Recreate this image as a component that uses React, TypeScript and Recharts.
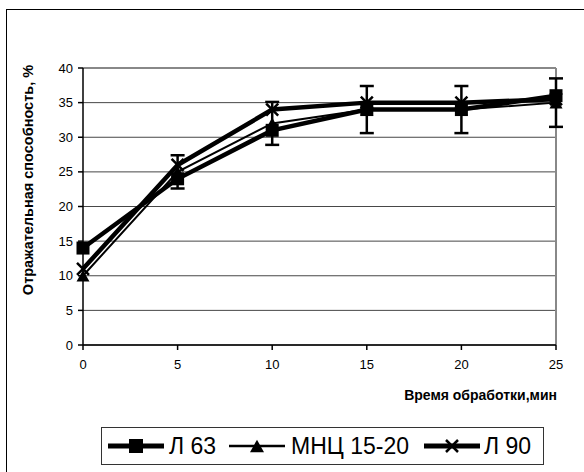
import React from "react";
import {
  CartesianGrid,
  ErrorBar,
  Line,
  LineChart,
  ReferenceLine,
  XAxis,
  YAxis,
} from "recharts";

const minutes = [0, 5, 10, 15, 20, 25];
const l63 = [14, 24, 31, 34, 34, 36];
const mnc = [10, 25, 32, 34, 34, 35];
const mncErr = [0, 2.4, 3.1, 3.4, 3.4, 3.5];
const l90 = [11, 26, 34, 35, 35, 35.5];
const xTicks = [0, 5, 10, 15, 20, 25];
const yTicks = [0, 5, 10, 15, 20, 25, 30, 35, 40];
const seriesNames = ["Л 63", "МНЦ 15-20", "Л 90"];

const data = minutes.map((m, i) => ({
  t: m,
  l63: l63[i],
  mnc: mnc[i],
  err: mncErr[i],
  l90: l90[i],
}));

const FONT = "Arial, 'Liberation Sans', sans-serif";

function Square({ cx, cy, s = 13 }: { cx: number; cy: number; s?: number }) {
  return <rect x={cx - s / 2} y={cy - s / 2} width={s} height={s} fill="#000" />;
}

function Tri({ cx, cy, s = 13 }: { cx: number; cy: number; s?: number }) {
  const h = s * 0.9;
  return (
    <path
      d={`M${cx},${cy - h / 2} L${cx + s / 2},${cy + h / 2} L${cx - s / 2},${cy + h / 2} Z`}
      fill="#000"
    />
  );
}

function Cross({ cx, cy, s = 12 }: { cx: number; cy: number; s?: number }) {
  const r = s / 2;
  return (
    <path
      d={`M${cx - r},${cy - r} L${cx + r},${cy + r} M${cx + r},${cy - r} L${cx - r},${cy + r}`}
      stroke="#000"
      strokeWidth={2.5}
    />
  );
}

// legend drawn by hand: line + marker + label, placed like the original
function LegendBox() {
  const items = [
    { line: 6, text: 67, w: 5, mark: <Square cx={28} cy={10} s={14} /> },
    { line: 127, text: 189, w: 2.5, mark: <Tri cx={28} cy={10} s={14} /> },
    { line: 322, text: 382, w: 5, mark: <Cross cx={28} cy={10} s={12} /> },
  ];
  return (
    <div
      style={{
        position: "absolute",
        left: 101,
        top: 427,
        width: 443,
        height: 38,
        border: "1.5px solid #333",
        boxSizing: "border-box",
        fontFamily: FONT,
        fontSize: 23,
        color: "#000",
      }}
    >
      {items.map((it, i) => (
        <React.Fragment key={i}>
          <svg
            width={56}
            height={20}
            style={{ position: "absolute", left: it.line, top: 8 }}
          >
            <line x1={0} y1={10} x2={56} y2={10} stroke="#000" strokeWidth={it.w} />
            {it.mark}
          </svg>
          <span
            style={{ position: "absolute", left: it.text, top: 4, lineHeight: "28px" }}
          >
            {seriesNames[i]}
          </span>
        </React.Fragment>
      ))}
    </div>
  );
}

export default function App() {
  return (
    <div
      style={{
        position: "absolute",
        left: 0,
        top: 0,
        width: 584,
        height: 472,
        overflow: "hidden",
        background: "#fff",
        fontFamily: FONT,
      }}
    >
      <div
        style={{
          position: "absolute",
          left: 6,
          top: 9,
          width: 620,
          height: 520,
          borderLeft: "1.5px solid #000",
          borderTop: "1.5px solid #000",
        }}
      />
      <LineChart
        width={584}
        height={472}
        data={data}
        margin={{ top: 68, right: 28, left: 0, bottom: 97 }}
        style={{ position: "absolute", left: 0, top: 0 }}
      >
        <CartesianGrid vertical={false} stroke="#333" strokeOpacity={0.9} />
        <ReferenceLine y={40} stroke="#888" strokeWidth={2} />
        <ReferenceLine x={25} stroke="#888" strokeWidth={2} />
        <XAxis
          dataKey="t"
          type="number"
          domain={[0, 25]}
          ticks={xTicks}
          tick={{ fontSize: 13, fill: "#000", fontFamily: FONT }}
          tickSize={5}
          tickMargin={10}
          stroke="#000"
          strokeWidth={1.5}
          height={30}
        />
        <YAxis
          domain={[0, 40]}
          ticks={yTicks}
          tick={{ fontSize: 13, fill: "#000", fontFamily: FONT }}
          tickSize={5}
          tickMargin={5}
          stroke="#000"
          strokeWidth={1.5}
          width={83}
        />
        <Line
          dataKey="l63"
          name={seriesNames[0]}
          stroke="#000"
          strokeWidth={4.5}
          isAnimationActive={false}
          dot={(p: any) => <Square key={p.index} cx={p.cx} cy={p.cy} />}
        />
        <Line
          dataKey="mnc"
          name={seriesNames[1]}
          stroke="#000"
          strokeWidth={2}
          isAnimationActive={false}
          dot={(p: any) => <Tri key={p.index} cx={p.cx} cy={p.cy} />}
        >
          <ErrorBar dataKey="err" width={7} stroke="#000" strokeWidth={2.5} />
        </Line>
        <Line
          dataKey="l90"
          name={seriesNames[2]}
          stroke="#000"
          strokeWidth={4.5}
          isAnimationActive={false}
          dot={(p: any) => <Cross key={p.index} cx={p.cx} cy={p.cy} />}
        />
      </LineChart>
      <LegendBox />
      <div
        style={{
          position: "absolute",
          right: 584 - 557,
          top: 387,
          fontSize: 14,
          fontWeight: "bold",
          color: "#000",
        }}
      >
        Время обработки,мин
      </div>
      <div
        style={{
          position: "absolute",
          left: 28,
          top: 180,
          transform: "translate(-50%, -50%) rotate(-90deg)",
          whiteSpace: "nowrap",
          fontSize: 14.5,
          fontWeight: "bold",
          color: "#000",
        }}
      >
        Отражательная способность, %
      </div>
    </div>
  );
}
